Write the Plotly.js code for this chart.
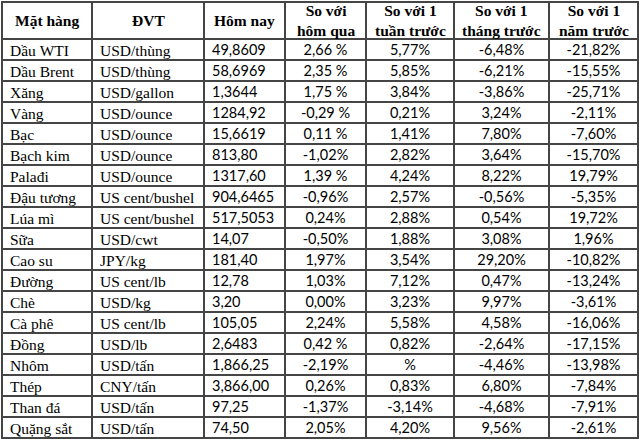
<!DOCTYPE html>
<html><head><meta charset="utf-8">
<script src="https://cdn.plot.ly/plotly-3.0.1.min.js"></script>
<style>html,body{margin:0;padding:0;background:#fff}#c{width:640px;height:442px}</style>
</head><body><div id="c"></div>
<script>
const headers = ["Mặt hàng","ĐVT","Hôm nay","So với<br>hôm qua","So với 1<br>tuần trước","So với 1<br>tháng trước","So với 1<br>năm trước"];
const items = ["Dầu WTI","Dầu Brent","Xăng","Vàng","Bạc","Bạch kim","Palađi","Đậu tương","Lúa mì","Sữa","Cao su","Đường","Chè","Cà phê","Đồng","Nhôm","Thép","Than đá","Quặng sắt"];
const units = ["USD/thùng","USD/thùng","USD/gallon","USD/ounce","USD/ounce","USD/ounce","USD/ounce","US cent/bushel","US cent/bushel","USD/cwt","JPY/kg","US cent/lb","USD/kg","US cent/lb","USD/lb","USD/tấn","CNY/tấn","USD/tấn","USD/tấn"];
const today = ["49,8609","58,6969","1,3644","1284,92","15,6619","813,80","1317,60","904,6465","517,5053","14,07","181,40","12,78","3,20","105,05","2,6483","1,866,25","3,866,00","97,25","74,50"];
const vsDay = ["2,66 %","2,35 %","1,75 %","-0,29 %","0,11 %","-1,02%","1,39 %","-0,96%","0,24%","-0,50%","1,97%","1,03%","0,00%","2,24%","0,42 %","-2,19%","0,26%","-1,37%","2,05%"];
const vsWeek = ["5,77%","5,85%","3,84%","0,21%","1,41%","2,82%","4,24%","2,57%","2,88%","1,88%","3,54%","7,12%","3,23%","5,58%","0,82%","%","0,83%","-3,14%","4,20%"];
const vsMonth = ["-6,48%","-6,21%","-3,86%","3,24%","7,80%","3,64%","8,22%","-0,56%","0,54%","3,08%","29,20%","0,47%","9,97%","4,58%","-2,64%","-4,46%","6,80%","-4,68%","9,56%"];
const vsYear = ["-21,82%","-15,55%","-25,71%","-2,11%","-7,60%","-15,70%","19,79%","-5,35%","19,72%","1,96%","-10,82%","-13,24%","-3,61%","-16,06%","-17,15%","-13,98%","-7,84%","-7,91%","-2,61%"];

const serif = "Liberation Serif, Times New Roman, serif";
const sans = "Lato, Carlito, sans-serif";
const lineCol = "#454545";
const colW = [90, 112, 81, 81, 88, 95, 89];
const W = 640, H = 442, M = {l: 2, r: 2, t: 2, b: 0};
const headerH = 37, rowH = 21, textLift = 3;
const nb = s => s.replace(/ /g, "\u00a0");

const totalW = colW.reduce((a, b) => a + b, 0);
const plotH = H - M.t - M.b;
let cum = 0;
const annotations = headers.map((h, i) => {
  const xc = (cum + colW[i] / 2) / totalW;
  cum += colW[i];
  return {
    xref: "paper", yref: "paper", x: xc, y: 1 - (headerH / 2) / plotH,
    xanchor: "center", yanchor: "middle", showarrow: false,
    text: "<b>" + h + "</b>", align: "center",
    font: {family: serif, size: 15.5, color: "#000"}
  };
});

const columns = [items.map(nb), units.map(nb), today, vsDay.map(nb), vsWeek, vsMonth, vsYear];
const blank = columns.map(col => col.map(() => ""));
const none = "rgba(0,0,0,0)";

// grid layer
const grid = {
  type: "table",
  columnwidth: colW,
  header: {values: headers.map(() => ""), height: headerH,
    line: {color: lineCol, width: 1.2}, fill: {color: "#ffffff"}},
  cells: {values: blank, height: rowH,
    line: {color: lineCol, width: 1.2}, fill: {color: "#ffffff"}}
};
// text layer
const txt = {
  type: "table",
  columnwidth: colW,
  header: {values: headers.map(() => ""), height: headerH - textLift,
    line: {color: none, width: 0}, fill: {color: none}},
  cells: {
    values: columns,
    align: ["left","left","left","center","center","center","center"],
    height: rowH,
    line: {color: none, width: 0},
    fill: {color: none},
    font: {family: [serif, serif, sans, sans, sans, sans, sans], size: [15.5, 15.5, 14.5, 14.5, 14.5, 14.5, 14.5], color: "#000"}
  }
};

Plotly.newPlot("c", [grid, txt], {
  width: W, height: H,
  margin: M,
  paper_bgcolor: "#ffffff",
  annotations: annotations
}, {displayModeBar: false, staticPlot: true});
</script></body></html>
